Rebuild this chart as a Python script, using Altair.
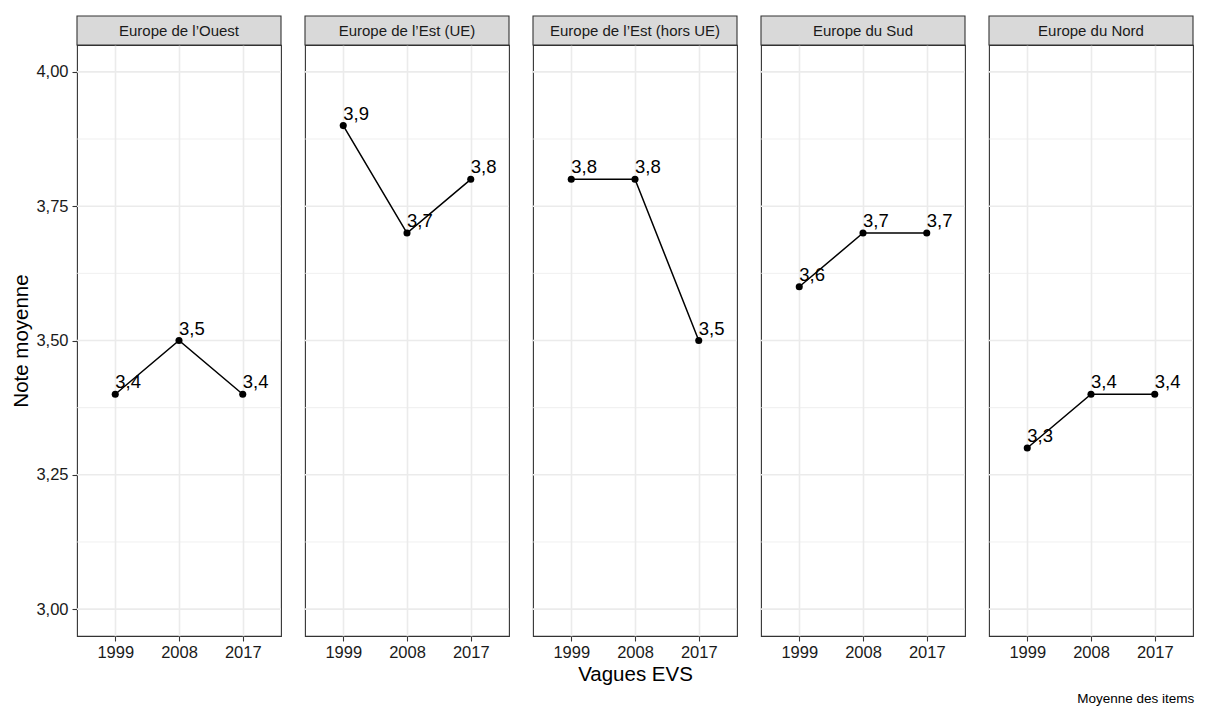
import altair as alt
import pandas as pd

regions = [
    "Europe de l\u2019Ouest",
    "Europe de l\u2019Est (UE)",
    "Europe de l\u2019Est (hors UE)",
    "Europe du Sud",
    "Europe du Nord",
]
years = ["1999", "2008", "2017"]
ouest = [3.4, 3.5, 3.4]
est_ue = [3.9, 3.7, 3.8]
est_hors_ue = [3.8, 3.8, 3.5]
sud = [3.6, 3.7, 3.7]
nord = [3.3, 3.4, 3.4]
series = [ouest, est_ue, est_hors_ue, sud, nord]

major_breaks = [3.0, 3.25, 3.5, 3.75, 4.0]
minor_breaks = [3.125, 3.375, 3.625, 3.875]

W, H, STRIP = 204, 591, 29
FONT = "Liberation Sans"
GRID = "#ebebeb"
DARK = "#333333"


def panel(i):
    df = pd.DataFrame({"annee": years, "note": series[i]})
    first = i == 0
    xenc = alt.X(
        "annee:O",
        sort=years,
        scale=alt.Scale(type="point", padding=0.6),
        axis=alt.Axis(
            title="Vagues EVS" if i == 2 else None,
            labelAngle=0,
            labelFontSize=16.5,
            labelColor="#1a1a1a",
            labelPadding=3,
            tickColor=DARK,
            tickSize=5,
            tickWidth=1.1,
            domain=False,
            grid=True,
            gridColor=GRID,
            gridWidth=1.6,
            titleFontSize=20.5,
            titleFontWeight="normal",
            titleColor="#000000",
            titlePadding=4,
        ),
    )
    yscale = alt.Scale(domain=[2.95, 4.05], nice=False, zero=False)
    if first:
        yaxis = alt.Axis(
            values=major_breaks,
            labelExpr="replace(format(datum.value, '.2f'), '.', ',')",
            title="Note moyenne",
            labelFontSize=16.5,
            labelColor="#1a1a1a",
            labelPadding=4,
            tickColor=DARK,
            tickSize=5,
            tickWidth=1.1,
            domain=False,
            grid=False,
            titleFontSize=20.5,
            titleFontWeight="normal",
            titleColor="#000000",
            titlePadding=4,
        )
    else:
        yaxis = None
    yenc = alt.Y("note:Q", scale=yscale, axis=yaxis)

    minor = (
        alt.Chart(pd.DataFrame({"note": minor_breaks}))
        .mark_rule(color=GRID, strokeWidth=0.8)
        .encode(y=yenc)
    )
    major = (
        alt.Chart(pd.DataFrame({"note": major_breaks}))
        .mark_rule(color=GRID, strokeWidth=1.6)
        .encode(y=yenc)
    )
    base = alt.Chart(df).transform_calculate(
        lab="replace(format(datum.note, '.1f'), '.', ',')"
    )
    line = base.mark_line(color="black", strokeWidth=1.5).encode(x=xenc, y=yenc)
    pts = base.mark_circle(color="black", opacity=1, size=50).encode(x=xenc, y=yenc)
    txt = base.mark_text(
        align="left", baseline="alphabetic", dx=0, dy=-6, fontSize=18.5, color="black", font=FONT
    ).encode(x=xenc, y=yenc, text="lab:N")

    strip_df = pd.DataFrame({"region": [regions[i]]})
    strip_rect = (
        alt.Chart(strip_df)
        .mark_rect(fill="#d9d9d9", stroke=DARK, strokeWidth=1.1)
        .encode(
            x=alt.value(0), x2=alt.value(W), y=alt.value(-STRIP), y2=alt.value(0)
        )
    )
    strip_txt = (
        alt.Chart(strip_df)
        .mark_text(fontSize=15, color="#1a1a1a", font=FONT, baseline="middle", align="center")
        .encode(x=alt.value(W / 2), y=alt.value(-STRIP / 2), text="region:N")
    )
    return alt.layer(minor, major, line, pts, txt, strip_rect, strip_txt).properties(
        width=W,
        height=H,
        view=alt.ViewBackground(fill="white", stroke=DARK, strokeWidth=1.1),
    )


chart = (
    alt.hconcat(*[panel(i) for i in range(5)], spacing=20)
    .properties(
        padding={"left": 3, "top": 6, "right": 0, "bottom": 0},
        title=alt.TitleParams(
            "Moyenne des items",
            orient="bottom",
            anchor="end",
            fontSize=13.5,
            fontWeight="normal",
            color="#000000",
            font=FONT,
            offset=6,
        ),
    )
    .configure(font=FONT, background="white")
)

chart.save("out.html", embed_options={"renderer": "svg", "actions": False})
